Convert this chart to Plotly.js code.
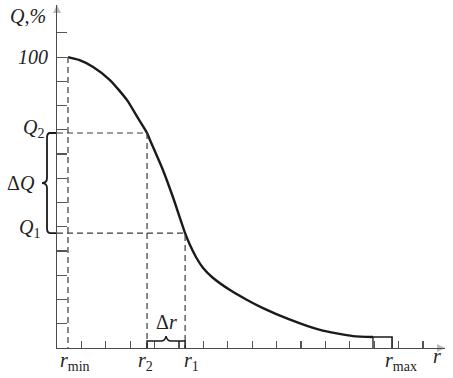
<!DOCTYPE html>
<html><head><meta charset="utf-8">
<script src="https://cdn.plot.ly/plotly-3.0.1.min.js"></script>
<style>html,body{margin:0;padding:0;background:#fff;}#chart{width:453px;height:378px;}</style>
</head><body><div id="chart"></div>
<script>
// Curve Q(r) (r in tick units, Q in %)
const rValues = [0.45, 0.9, 1.48, 2.17, 2.87, 3.32, 3.69, 3.81, 4.34, 4.75, 5.25, 5.45, 5.7, 5.98, 6.35, 7.09, 7.79, 8.44, 9.47, 10.78, 12.13, 12.95];
const qValues = [100, 99.0, 96.6, 92.1, 85.2, 79.0, 73.9, 71.5, 61.2, 51.9, 39.5, 35.4, 31.2, 27.6, 24.4, 19.9, 16.5, 13.7, 10.0, 6.2, 4.1, 3.8];

// Marked values
const rMin = 0.45, r2 = 3.69, r1 = 5.25, rMax = 13.73;
const q2 = 73.9, q1 = 39.5, qTop = 100;
const qTail = 3.8;     // level of the r_max bracket
const qBrace = 2.4;    // level of the Δr brace

// Tick marks
const xTicks = [1, 2, 3, 4, 5, 6, 7, 8, 9, 10, 11, 12, 13, 14, 15];
const yTicks = [8.33, 16.67, 25, 33.33, 41.67, 50, 58.33, 66.67, 75, 83.33, 91.67, 100, 108.33];

// Labels
const yAxisTitle = '<i>Q,%</i>';
const xAxisTitle = '<i>r</i>';
const labelTop = '<i>100</i>';
const labelQ2 = '<i>Q</i><sub>2</sub>';
const labelQ1 = '<i>Q</i><sub>1</sub>';
const labelDQ = 'Δ<i>Q</i>';
const labelDr = 'Δ<i>r</i>';
const labelRmin = '<i>r</i><sub>min</sub>';
const labelR2 = '<i>r</i><sub>2</sub>';
const labelR1 = '<i>r</i><sub>1</sub>';
const labelRmax = '<i>r</i><sub>max</sub>';

const W = 453, H = 378;
const xDom = [57 / W, 445 / W], yDom = [30 / H, 373 / H];
const xRange = [0, 15.9], yRange = [0, 117.9];
const toPx = u => xDom[0] + (u - xRange[0]) / (xRange[1] - xRange[0]) * (xDom[1] - xDom[0]);
const toPy = q => yDom[0] + (q - yRange[0]) / (yRange[1] - yRange[0]) * (yDom[1] - yDom[0]);

const ink = '#1a1a1a', dashInk = '#3a3a3a', axisInk = '#4a4a4a';
const FONT = '"Liberation Serif", "DejaVu Serif", serif';

const last = rValues.length - 1;
const traces = [
  {x: rValues, y: qValues, mode: 'lines', line: {color: ink, width: 2.4, shape: 'spline', smoothing: 0.6}, hoverinfo: 'skip'},
  {x: [rValues[last], rMax, rMax], y: [qTail, qTail, 0], mode: 'lines', line: {color: ink, width: 1.6}, hoverinfo: 'skip'},
  {x: [rValues[last], rValues[last]], y: [0, qTail], mode: 'lines', line: {color: ink, width: 1.3}, hoverinfo: 'skip'},
  {x: [0, r2, r2], y: [q2, q2, 0], mode: 'lines', line: {color: dashInk, width: 1.2, dash: '6px,4px'}, hoverinfo: 'skip'},
  {x: [0, r1, r1], y: [q1, q1, 0], mode: 'lines', line: {color: dashInk, width: 1.2, dash: '6px,4px'}, hoverinfo: 'skip'},
  {x: [rMin, rMin], y: [qTop, 0], mode: 'lines', line: {color: dashInk, width: 1.2, dash: '6px,4px'}, hoverinfo: 'skip'},
  // axis arrowheads
  {x: [xRange[1], 0], y: [0, yRange[1]], mode: 'markers', cliponaxis: false,
   marker: {symbol: ['arrow-right', 'arrow-up'], size: 8, color: '#bbb'}, hoverinfo: 'skip'}
];

const midR = (r1 + r2) / 2, midQ = (q1 + q2) / 2;
// Δr brace (inside plot)
const drPath = `M ${r2},0 L ${r2},${qBrace} L ${midR - 0.2},${qBrace} Q ${midR - 0.05},${qBrace} ${midR},${qBrace + 1.7} Q ${midR + 0.05},${qBrace} ${midR + 0.2},${qBrace} L ${r1},${qBrace} L ${r1},0`;
// ΔQ brace (left of the axis, paper coords)
const bx0 = toPx(0) - 1 / W, bx1 = toPx(0) - 7 / W, bxs = toPx(0) - 10 / W, bxt = toPx(0) - 15 / W;
const py2 = toPy(q2), py1 = toPy(q1), pym = toPy(midQ), d = 5 / H;
const dqPath = `M ${bx0},${py2} L ${bx1},${py2} Q ${bxs},${py2} ${bxs},${py2 - d} L ${bxs},${pym + d} Q ${bxs},${pym} ${bxt},${pym} Q ${bxs},${pym} ${bxs},${pym - d} L ${bxs},${py1 + d} Q ${bxs},${py1} ${bx1},${py1} L ${bx0},${py1}`;

const ann = (text, x, y, xanchor, size) => ({text, x: toPx(x), y: toPy(y), xref: 'paper', yref: 'paper', xanchor, yanchor: 'middle', showarrow: false, font: {family: FONT, size: size || 20, color: '#222'}});

const layout = {
  width: W, height: H,
  margin: {l: 0, r: 0, t: 0, b: 0},
  paper_bgcolor: '#fff', plot_bgcolor: '#fff',
  showlegend: false,
  xaxis: {domain: xDom, range: xRange, showline: true, linecolor: axisInk, linewidth: 1.3, ticks: 'inside', ticklen: 7, tickwidth: 1.1, tickcolor: '#555', tickvals: xTicks, showticklabels: false, showgrid: false, zeroline: false, fixedrange: true},
  yaxis: {domain: yDom, range: yRange, showline: true, linecolor: axisInk, linewidth: 1.3, ticks: 'inside', ticklen: 10, tickwidth: 1.1, tickcolor: '#555', tickvals: yTicks, showticklabels: false, showgrid: false, zeroline: false, fixedrange: true},
  shapes: [
    {type: 'path', xref: 'x', yref: 'y', path: drPath, line: {color: ink, width: 1.5}},
    {type: 'path', xref: 'paper', yref: 'paper', path: dqPath, line: {color: ink, width: 1.8}}
  ],
  annotations: [
    ann(yAxisTitle, -1.18, 114.2, 'center', 20),
    ann(labelTop, -0.29, qTop, 'right', 20),
    ann(labelQ2, -0.46, q2 + 1.5, 'right', 20),
    ann(labelDQ, -0.8, midQ, 'right', 20),
    ann(labelQ1, -0.6, q1 + 1.5, 'right', 20),
    ann(labelDr, midR, 8.9, 'center', 20),
    ann(labelRmin, 0.75, -4.6, 'center', 20),
    ann(labelR2, r2 - 0.05, -4.6, 'center', 20),
    ann(labelR1, r1 + 0.25, -4.6, 'center', 20),
    ann(labelRmax, 14.1, -4.6, 'center', 20),
    ann(xAxisTitle, 15.57, -2.6, 'center', 20)
  ]
};

Plotly.newPlot('chart', traces, layout, {staticPlot: true, displayModeBar: false});
</script>
</body></html>
